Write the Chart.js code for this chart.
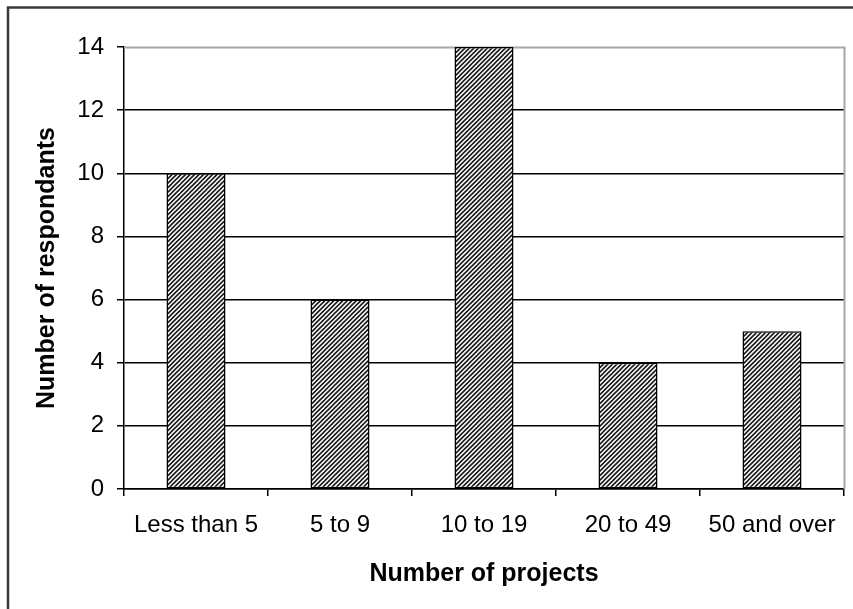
<!DOCTYPE html>
<html>
<head>
<meta charset="utf-8">
<script src="https://cdn.jsdelivr.net/npm/chart.js@4/dist/chart.umd.min.js"></script>
<style>
  html, body { margin: 0; padding: 0; background: #fff; }
  canvas { display: block; }
</style>
</head>
<body>
<canvas id="c" width="853" height="609"></canvas>
<script>
// Survey: how many projects each respondent has worked on
const categories = ['Less than 5', '5 to 9', '10 to 19', '20 to 49', '50 and over'];
const respondents = [10, 6, 14, 4, 5];
const yTicks = [0, 2, 4, 6, 8, 10, 12, 14];

const FONT = "'Liberation Sans', Arial, sans-serif";

// Diagonal (///) hatch fill for the bars: 45-degree lines every 4.5px
function makeHatch() {
  const s = 9;
  const tile = document.createElement('canvas');
  tile.width = s; tile.height = s;
  const g = tile.getContext('2d');
  g.fillStyle = '#fff';
  g.fillRect(0, 0, s, s);
  g.strokeStyle = '#1a1a1a';
  g.lineWidth = 1.6;
  for (let c = -s; c <= 3 * s; c += s / 2) {
    // line x + y = c
    g.beginPath();
    g.moveTo(c + s, -s);
    g.lineTo(c - 2 * s, 2 * s);
    g.stroke();
  }
  return document.getElementById('c').getContext('2d').createPattern(tile, 'repeat');
}

// Frame around the whole figure and the light border of the plot area
const framePlugin = {
  id: 'frame',
  beforeDraw(chart) {
    const ctx = chart.ctx;
    ctx.save();
    ctx.fillStyle = '#fff';
    ctx.fillRect(0, 0, chart.width, chart.height);
    ctx.strokeStyle = '#3a3a3a';
    ctx.lineWidth = 2.5;
    ctx.beginPath();
    ctx.moveTo(8, chart.height + 5);
    ctx.lineTo(8, 7.5);
    ctx.lineTo(chart.width + 5, 7.5);
    ctx.stroke();
    ctx.restore();
  },
  beforeDatasetsDraw(chart) {
    const a = chart.chartArea;
    const ctx = chart.ctx;
    ctx.save();
    ctx.strokeStyle = '#a6a6a6';
    ctx.lineWidth = 2;
    ctx.beginPath();
    ctx.moveTo(a.left, a.top + 0.5);
    ctx.lineTo(a.right + 0.5, a.top + 0.5);
    ctx.lineTo(a.right + 0.5, a.bottom);
    ctx.stroke();
    ctx.restore();
  }
};

new Chart(document.getElementById('c'), {
  type: 'bar',
  data: {
    labels: categories,
    datasets: [{
      data: respondents,
      backgroundColor: makeHatch(),
      borderColor: '#000',
      borderWidth: 1.5,
      borderSkipped: false,
      barPercentage: 0.41,
      categoryPercentage: 1.0
    }]
  },
  options: {
    responsive: false,
    animation: false,
    layout: { padding: { top: 47, right: 9, bottom: 0, left: 0 } },
    plugins: { legend: { display: false }, tooltip: { enabled: false } },
    scales: {
      x: {
        offset: true,
        grid: {
          offset: true,
          drawOnChartArea: false,
          drawTicks: true,
          tickLength: 7,
          color: '#000',
          tickColor: '#000',
          lineWidth: 1.5
        },
        border: { color: '#000', width: 1.5 },
        ticks: {
          color: '#000',
          padding: 15,
          maxRotation: 0,
          autoSkip: false,
          font: { family: FONT, size: 24 }
        },
        title: {
          display: true,
          text: 'Number of projects',
          color: '#000',
          padding: { top: 0, bottom: 20 },
          font: { family: FONT, size: 25, weight: 'bold' }
        },
        afterFit(scale) { scale.height = 120; }
      },
      y: {
        min: 0,
        max: 14,
        afterBuildTicks(scale) { scale.ticks = yTicks.map(v => ({ value: v })); },
        grid: {
          drawTicks: true,
          tickLength: 7,
          lineWidth: 1.5,
          color: ctx => (ctx.tick && ctx.tick.value === 14) ? 'rgba(0,0,0,0)' : '#000',
          tickColor: '#000'
        },
        border: { color: '#000', width: 1.5 },
        ticks: {
          color: '#000',
          padding: 13,
          font: { family: FONT, size: 24 }
        },
        title: {
          display: true,
          text: 'Number of respondants',
          color: '#000',
          padding: { top: 32, bottom: 0 },
          font: { family: FONT, size: 25, weight: 'bold' }
        },
        afterFit(scale) { scale.width = 124; }
      }
    }
  },
  plugins: [framePlugin]
});
</script>
</body>
</html>
